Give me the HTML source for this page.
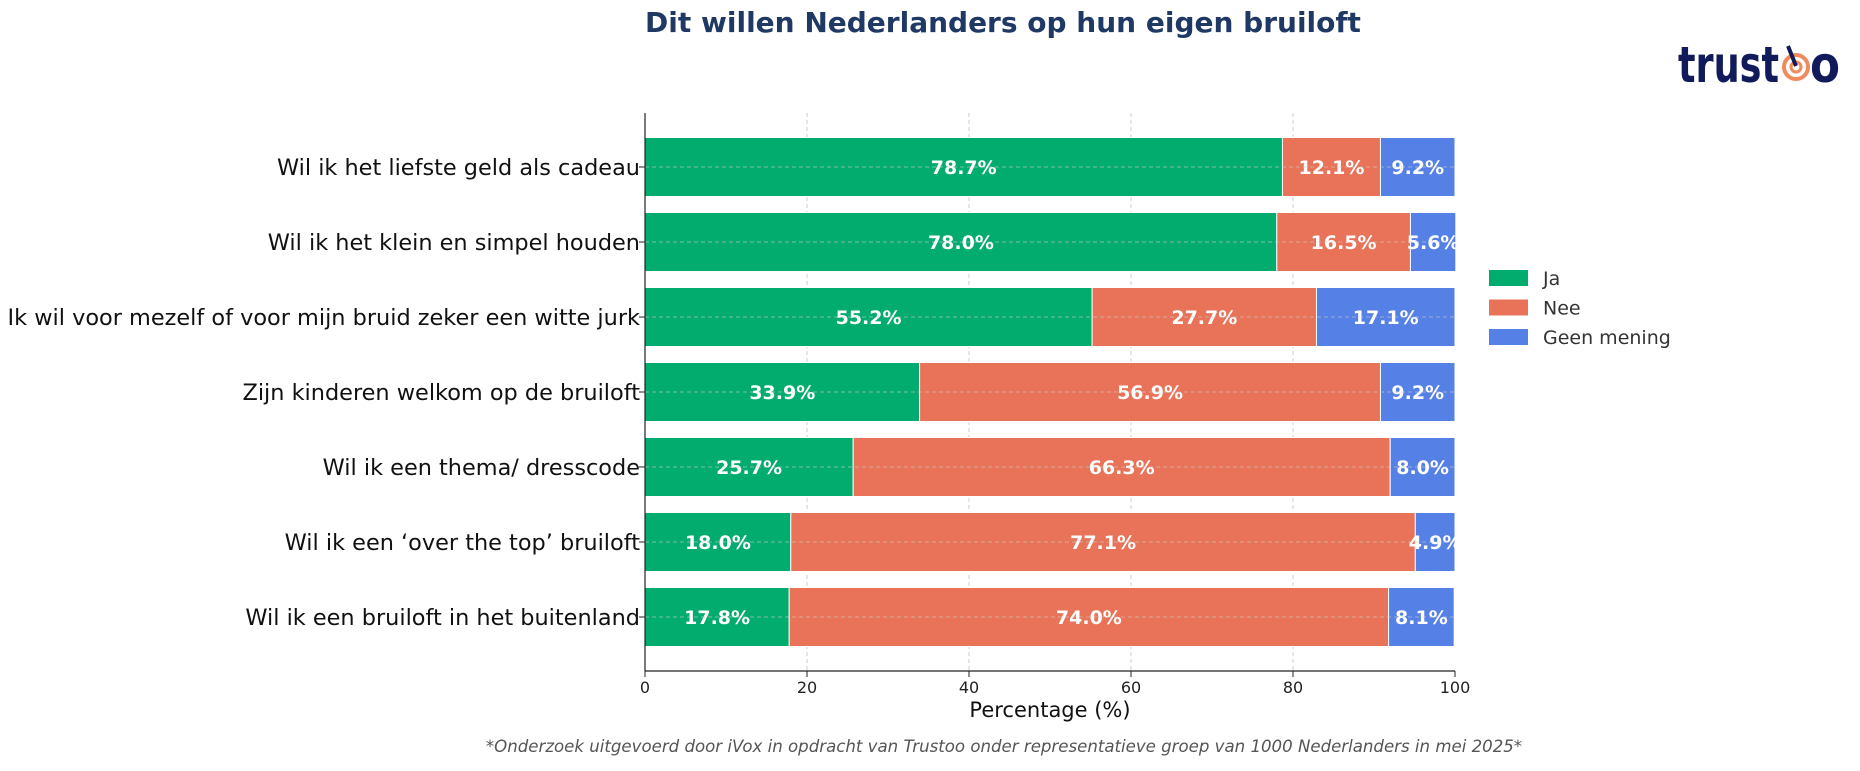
<!DOCTYPE html>
<html><head><meta charset="utf-8"><style>
body{margin:0;background:#fff;}
svg text{font-family:"DejaVu Sans","Liberation Sans",sans-serif;}
</style></head><body>
<svg width="1860" height="766" viewBox="0 0 1860 766">
<text x="1003" y="32" text-anchor="middle" font-size="28" font-weight="bold" fill="#1f3864">Dit willen Nederlanders op hun eigen bruiloft</text>
<g>
<text x="1678" y="82" font-size="50" font-weight="bold" fill="#111a5a" textLength="101" lengthAdjust="spacingAndGlyphs">trust</text>
<circle cx="1796" cy="67" r="12" fill="none" stroke="#f08a5d" stroke-width="4"/>
<circle cx="1796" cy="67" r="5" fill="none" stroke="#f08a5d" stroke-width="3"/>
<line x1="1788" y1="46" x2="1796" y2="66" stroke="#111a5a" stroke-width="4"/>
<text x="1810" y="82" font-size="50" font-weight="bold" fill="#111a5a" textLength="30" lengthAdjust="spacingAndGlyphs">o</text>
</g>
<g id="grid"></g>
<g id="bars"></g>
<line x1="645" y1="113" x2="645" y2="671" stroke="#222" stroke-width="1.2"/>
<line x1="645" y1="671" x2="1455" y2="671" stroke="#222" stroke-width="1.2"/>
<g id="ticks"></g>
<text x="1050" y="717" text-anchor="middle" font-size="21" fill="#111">Percentage (%)</text>
<text x="1004" y="752" text-anchor="middle" font-size="16.6" font-style="italic" fill="#555">*Onderzoek uitgevoerd door iVox in opdracht van Trustoo onder representatieve groep van 1000 Nederlanders in mei 2025*</text>
<g id="legend"></g>
</svg>
<script>
const categories=["Wil ik het liefste geld als cadeau","Wil ik het klein en simpel houden","Ik wil voor mezelf of voor mijn bruid zeker een witte jurk","Zijn kinderen welkom op de bruiloft","Wil ik een thema/ dresscode","Wil ik een ‘over the top’ bruiloft","Wil ik een bruiloft in het buitenland"];
const ja=[78.7,78.0,55.2,33.9,25.7,18.0,17.8];
const nee=[12.1,16.5,27.7,56.9,66.3,77.1,74.0];
const geen=[9.2,5.6,17.1,9.2,8.0,4.9,8.1];
const xTicks=[0,20,40,60,80,100];
const seriesNames=["Ja","Nee","Geen mening"];
const colors=["#02ac6f","#e87358","#5580e6"];
const NS="http://www.w3.org/2000/svg";
const x=v=>645+v*8.1;
const y=i=>167+i*75;
const bh=59;
function mk(tag,attrs,parent,txt){const e=document.createElementNS(NS,tag);for(const k in attrs)e.setAttribute(k,attrs[k]);if(txt!==undefined)e.textContent=txt;parent.appendChild(e);return e;}
const grid=document.getElementById('grid'),bars=document.getElementById('bars'),ticks=document.getElementById('ticks'),legend=document.getElementById('legend');
xTicks.forEach(t=>{
 if(t>0&&t<100){const g=mk('line',{x1:x(t),x2:x(t),y1:113,y2:671,stroke:'#ccc','stroke-dasharray':'4,3'},grid);
 
 }
 const tl=mk('line',{x1:x(t),x2:x(t),y1:671,y2:677,stroke:'#222'},ticks);
 
 
 const tx=mk('text',{x:x(t),y:693,'text-anchor':'middle','font-size':16,fill:'#222'},ticks,String(t));
 
 
});
const series=[ja,nee,geen];
categories.forEach((c,i)=>{
 let acc=0;
 series.forEach((s,k)=>{
  const v=s[i];
  const r=mk('rect',{x:x(acc),y:y(i)-bh/2,width:x(acc+v)-x(acc),height:bh,fill:colors[k],stroke:'#fff','stroke-width':1},bars);
  
  
  const t=mk('text',{x:x(acc+v/2),y:y(i)+7,'text-anchor':'middle','font-size':19,'font-weight':'bold',fill:'#fff'},bars,v.toFixed(1)+'%');
  
  
  acc+=v;
 });
 const gl=mk('line',{x1:645,x2:1455,y1:y(i),y2:y(i),stroke:'#ccc','stroke-dasharray':'4,3','stroke-opacity':0.6},bars);
 
 
 const tk=mk('line',{x1:639,x2:645,y1:y(i),y2:y(i),stroke:'#222'},ticks);
 
 
 const l=mk('text',{x:640,y:y(i)+8,'text-anchor':'end','font-size':22.4,fill:'#111'},ticks,c);
 
 
});
seriesNames.forEach((n,k)=>{
 const r=mk('rect',{x:1489,y:270+k*29.5,width:39,height:16,fill:colors[k]},legend);
 
 
 const t=mk('text',{x:1543,y:285+k*29.5,'font-size':19,fill:'#333'},legend,n);
 
 
});
</script>
</body></html>
